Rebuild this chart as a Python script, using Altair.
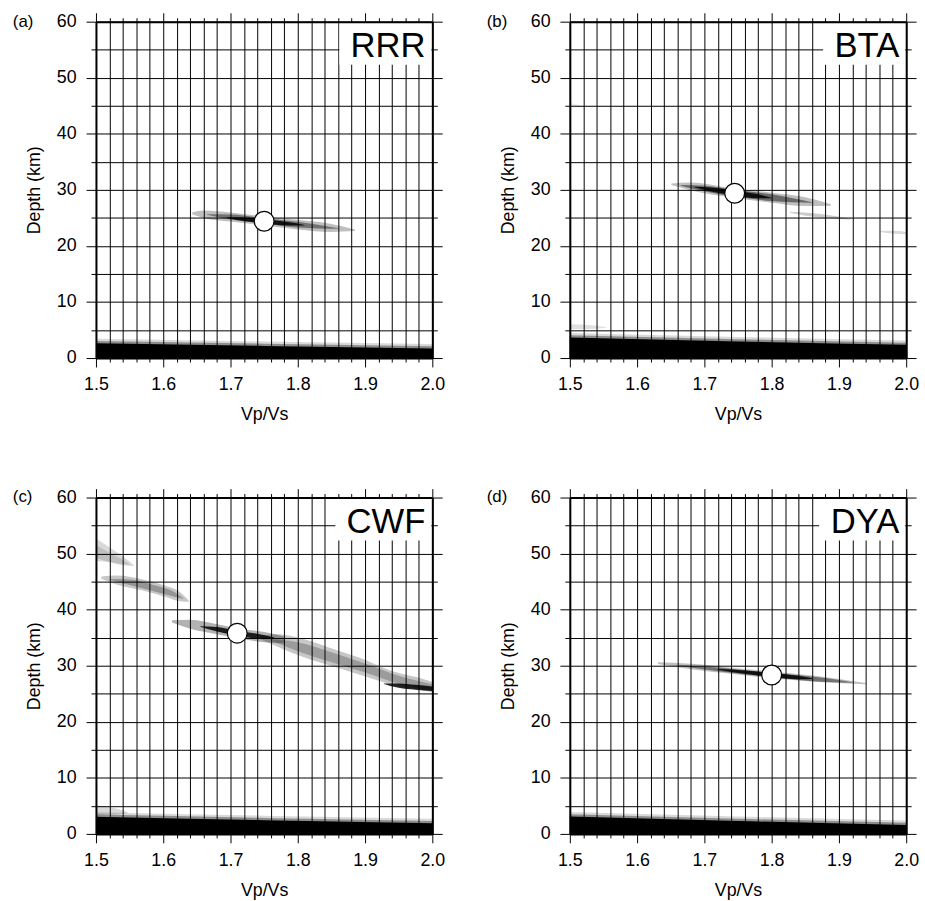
import altair as alt
import pandas as pd

# ---------------- data ----------------
STATIONS = ["RRR", "BTA", "CWF", "DYA"]
PANEL_TAGS = ["(a)", "(b)", "(c)", "(d)"]
BEST_VPVS = [1.75, 1.745, 1.71, 1.80]
BEST_DEPTH = [24.4, 29.4, 35.8, 28.35]

X_TICKS = [1.50, 1.52, 1.54, 1.56, 1.58, 1.60, 1.62, 1.64, 1.66, 1.68,
           1.70, 1.72, 1.74, 1.76, 1.78, 1.80, 1.82, 1.84, 1.86, 1.88,
           1.90, 1.92, 1.94, 1.96, 1.98, 2.00]
Y_TICKS = [0, 5, 10, 15, 20, 25, 30, 35, 40, 45, 50, 55, 60]

# saturated shallow band: upper edge (km) at these Vp/Vs values
BAND_VPVS = [1.5, 1.75, 2.0]
BAND_TOP_RRR = [2.65, 2.15, 1.7]
BAND_TOP_BTA = [3.65, 2.95, 2.35]
BAND_TOP_CWF = [3.05, 2.45, 1.9]
BAND_TOP_DYA = [3.1, 2.3, 1.6]

# stacking-amplitude streaks: (grey level, Vp/Vs, centre depth km, half-spread km)
RRR_STREAKS = [
    (0.25, [1.643, 1.66, 1.70, 1.75, 1.80, 1.85, 1.885], [25.8, 25.65, 25.15, 24.45, 23.8, 23.2, 22.8], [0.15, 0.65, 0.8, 0.8, 0.85, 0.7, 0.15]),
    (0.40, [1.665, 1.70, 1.75, 1.80, 1.86], [25.6, 25.15, 24.45, 23.8, 23.1], [0.05, 0.45, 0.5, 0.5, 0.05]),
    (0.85, [1.695, 1.72, 1.75, 1.785, 1.81], [25.05, 24.75, 24.4, 23.95, 23.7], [0.05, 0.3, 0.35, 0.3, 0.05]),
]
BTA_STREAKS = [
    (0.25, [1.651, 1.68, 1.745, 1.80, 1.85, 1.888], [31.0, 30.6, 29.4, 28.6, 27.9, 27.3], [0.15, 0.7, 0.8, 0.9, 0.8, 0.15]),
    (0.45, [1.665, 1.70, 1.745, 1.80, 1.86], [30.8, 30.25, 29.4, 28.6, 27.75], [0.05, 0.5, 0.6, 0.6, 0.05]),
    (0.85, [1.685, 1.71, 1.745, 1.78, 1.80], [30.5, 30.05, 29.4, 28.85, 28.55], [0.05, 0.35, 0.45, 0.35, 0.05]),
    (0.20, [1.827, 1.87, 1.918], [26.0, 25.4, 24.8], [0.1, 0.35, 0.1]),
    (0.15, [1.962, 1.98, 2.0], [22.6, 22.45, 22.3], [0.1, 0.25, 0.2]),
    (0.12, [1.5, 1.53, 1.555], [5.6, 5.55, 5.45], [0.45, 0.35, 0.05]),
    (0.07, [1.5, 1.51, 1.52], [45.2, 45.0, 44.8], [0.3, 0.25, 0.05]),
]
CWF_STREAKS = [
    (0.15, [1.5, 1.52, 1.54, 1.556], [50.7, 49.8, 48.7, 47.9], [2.0, 1.35, 0.8, 0.1]),
    (0.12, [1.5, 1.515, 1.535, 1.55], [50.4, 49.6, 48.7, 48.1], [1.2, 0.9, 0.5, 0.05]),
    (0.22, [1.508, 1.53, 1.57, 1.60, 1.625, 1.638], [45.7, 45.3, 44.4, 43.4, 42.3, 41.5], [0.2, 0.8, 1.0, 1.0, 0.8, 0.1]),
    (0.25, [1.52, 1.55, 1.59, 1.615, 1.63], [45.4, 44.9, 43.7, 42.8, 42.0], [0.05, 0.5, 0.55, 0.45, 0.05]),
    (0.30, [1.613, 1.64, 1.68, 1.71, 1.75, 1.78], [37.9, 37.4, 36.5, 35.8, 35.1, 34.6], [0.2, 0.8, 0.9, 0.9, 0.9, 0.6]),
    (0.85, [1.655, 1.68, 1.71, 1.74, 1.765], [37.0, 36.5, 35.8, 35.3, 35.0], [0.05, 0.4, 0.45, 0.4, 0.05]),
    (0.22, [1.745, 1.77, 1.794, 1.843, 1.892, 1.941, 1.99, 2.0], [35.0, 34.5, 33.7, 31.8, 29.9, 27.8, 26.5, 26.2], [0.3, 1.1, 1.5, 1.6, 1.5, 1.2, 1.0, 0.9]),
    (0.22, [1.76, 1.80, 1.85, 1.90, 1.95, 2.0], [34.6, 33.4, 31.5, 29.6, 27.5, 26.1], [0.1, 0.8, 0.9, 0.8, 0.7, 0.6]),
    (0.85, [1.928, 1.95, 1.975, 2.0], [26.8, 26.45, 26.15, 25.9], [0.05, 0.4, 0.45, 0.4]),
    (0.15, [1.5, 1.52, 1.547], [4.2, 4.1, 3.8], [0.9, 0.7, 0.1]),
]
DYA_STREAKS = [
    (0.25, [1.631, 1.68, 1.74, 1.80, 1.87, 1.94], [30.45, 29.85, 29.1, 28.35, 27.6, 26.8], [0.15, 0.5, 0.55, 0.6, 0.5, 0.1]),
    (0.40, [1.66, 1.72, 1.80, 1.88, 1.92], [30.1, 29.35, 28.35, 27.45, 27.0], [0.05, 0.35, 0.4, 0.35, 0.05]),
    (0.85, [1.72, 1.76, 1.80, 1.84, 1.86], [29.35, 28.85, 28.35, 27.9, 27.7], [0.05, 0.3, 0.35, 0.3, 0.05]),
]

BAND_TOPS = {"RRR": BAND_TOP_RRR, "BTA": BAND_TOP_BTA, "CWF": BAND_TOP_CWF, "DYA": BAND_TOP_DYA}
STREAKS = {"RRR": RRR_STREAKS, "BTA": BTA_STREAKS, "CWF": CWF_STREAKS, "DYA": DYA_STREAKS}

# ---------------- styling ----------------
FONT = "Liberation Sans"
W = H = 340
BOX_LEFT = {"RRR": 246, "BTA": 256, "CWF": 242, "DYA": 252}
BAND_BLUR = [(0.8, 0.15), (0.4, 0.35), (0.0, 1.0)]

MAJX = "abs(datum.value*10 - round(datum.value*10)) < 0.001"
MAJY = "datum.value % 10 === 0"

xs = alt.Scale(domain=[1.5, 2.0], nice=False, zero=False)
ys = alt.Scale(domain=[0, 60], nice=False, zero=False)

common = dict(tickColor="black", tickWidth=1, domainColor="black", domainWidth=2,
              labelFont=FONT, labelFontSize=18, labelColor="black",
              titleFont=FONT, titleFontSize=18, titleFontWeight="normal", titleColor="black",
              labelFlush=False, labelOverlap=False)

x_bottom = alt.Axis(orient="bottom", values=X_TICKS, grid=True, gridColor="black", gridWidth=1, gridOpacity=1,
                    labelExpr=f"{MAJX} ? format(datum.value, '.1f') : ''",
                    tickSize={"condition": {"test": MAJX, "value": 9}, "value": 4},
                    labelPadding=9, titlePadding=12, **common)
y_left = alt.Axis(orient="left", values=Y_TICKS, grid=True, gridColor="black", gridWidth=1, gridOpacity=1,
                  labelExpr=f"{MAJY} ? datum.label : ''",
                  tickSize={"condition": {"test": MAJY, "value": 10}, "value": 5},
                  labelPadding=10, titlePadding=13, **common)
x_top = alt.Axis(orient="top", values=X_TICKS, grid=False, labels=False, zindex=1,
                 tickSize={"condition": {"test": MAJX, "value": 9}, "value": 4}, **common)
y_right = alt.Axis(orient="right", values=Y_TICKS, grid=False, labels=False, zindex=1,
                   tickSize={"condition": {"test": MAJY, "value": 10}, "value": 5}, **common)


def panel(i):
    st = STATIONS[i]
    rows = []
    for k, (off, op) in enumerate(BAND_BLUR):
        for v, t in zip(BAND_VPVS, BAND_TOPS[st]):
            rows.append({"g": f"b{k}", "shade": op, "vpvs": v, "lo": 0.0, "hi": t + off})
    band_df = pd.DataFrame(rows)

    srows = []
    for k, (op, vv, dd, ss) in enumerate(STREAKS[st]):
        for v, d, s in zip(vv, dd, ss):
            srows.append({"g": f"s{k:02d}", "shade": op, "vpvs": v, "lo": d - s, "hi": d + s})
    streak_df = pd.DataFrame(srows)

    best_df = pd.DataFrame({"vpvs": [BEST_VPVS[i]], "depth": [BEST_DEPTH[i]]})
    lab_df = pd.DataFrame({"station": [st], "tag": [PANEL_TAGS[i]]})

    bands = alt.Chart(band_df).mark_area(color="black", interpolate="monotone").encode(
        x=alt.X("vpvs:Q", scale=xs, axis=x_bottom, title="Vp/Vs"),
        y=alt.Y("lo:Q", scale=ys, axis=y_left, title="Depth (km)", stack=None),
        y2="hi:Q",
        detail="g:N",
        opacity=alt.Opacity("shade:Q", scale=None),
    )
    streaks = alt.Chart(streak_df).mark_area(color="black", interpolate="monotone").encode(
        x=alt.X("vpvs:Q", scale=xs, axis=None),
        y=alt.Y("lo:Q", scale=ys, axis=None, stack=None),
        y2="hi:Q",
        detail="g:N",
        opacity=alt.Opacity("shade:Q", scale=None),
    )
    box = alt.Chart(lab_df).mark_rect(fill="white").encode(
        x=alt.value(BOX_LEFT[st]), x2=alt.value(339), y=alt.value(1), y2=alt.value(43.5)
    )
    name = alt.Chart(lab_df).mark_text(align="right", baseline="alphabetic", font=FONT,
                                       fontSize=35, color="black").encode(
        x=alt.value(333), y=alt.value(35.5), text="station:N"
    )
    tag = alt.Chart(lab_df).mark_text(align="left", baseline="alphabetic", font=FONT,
                                      fontSize=17, color="black").encode(
        x=alt.value(-84), y=alt.value(5), text="tag:N"
    )
    best = alt.Chart(best_df).mark_point(shape="circle", filled=True, fill="white", stroke="black",
                                         strokeWidth=1.2, size=400, opacity=1).encode(
        x=alt.X("vpvs:Q", scale=xs, axis=x_top, title=None),
        y=alt.Y("depth:Q", scale=ys, axis=y_right, title=None),
    )
    return alt.layer(bands, streaks, box, name, tag, best).resolve_axis(
        x="independent", y="independent").properties(width=W, height=H)


top = alt.hconcat(panel(0), panel(1), spacing=40)
bottom = alt.hconcat(panel(2), panel(3), spacing=40)
chart = alt.vconcat(top, bottom, spacing=64).properties(
    padding={"left": 12, "top": 7, "right": 5, "bottom": 5},
    background="white",
).configure_view(stroke="transparent")

chart.save("out.html", embed_options={"renderer": "svg", "actions": False})
